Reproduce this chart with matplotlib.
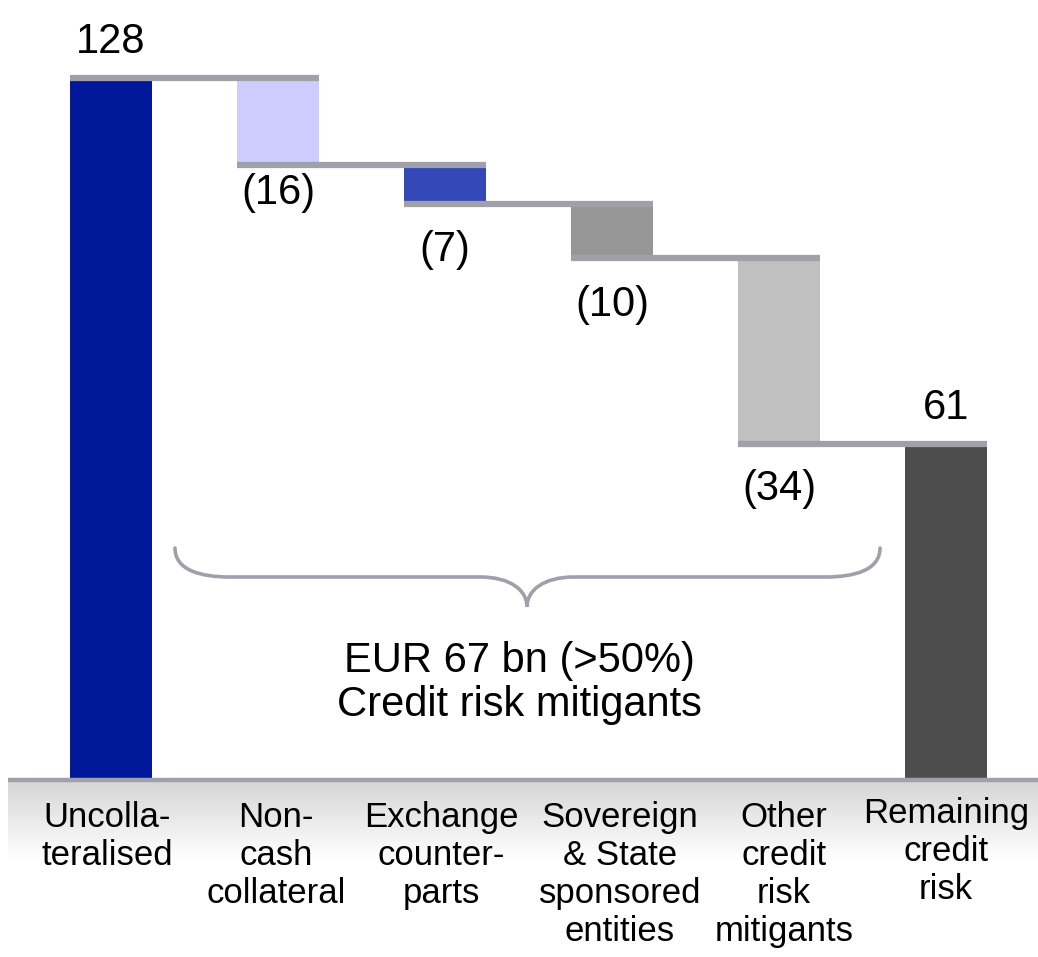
import matplotlib
matplotlib.use("Agg")
import matplotlib.pyplot as plt
import numpy as np
from matplotlib.path import Path
from matplotlib.patches import PathPatch
from matplotlib.transforms import Affine2D

# ---- data ----
categories = ["Uncolla-\nteralised", "Non-\ncash\ncollateral", "Exchange\ncounter-\nparts",
              "Sovereign\n& State\nsponsored\nentities", "Other\ncredit\nrisk\nmitigants",
              "Remaining\ncredit\nrisk"]
values = [128, -16, -7, -10, -34, 61]
value_labels = ["128", "(16)", "(7)", "(10)", "(34)", "61"]
bar_colors = ["#001899", "#ccccff", "#3449b8", "#969696", "#c0c0c0", "#4d4d4d"]
brace_text = "EUR 67 bn (>50%)\nCredit risk mitigants"

# ---- layout ----
W, H = 1038, 957
plt.rcParams['font.family'] = ['Liberation Sans', 'DejaVu Sans']
fig = plt.figure(figsize=(W / 100, H / 100), dpi=100)
ax = fig.add_axes([0, 0, 1, 1])
px_x = 167.0           # px per category
x0_px = 111.0          # px of first bar centre
base_px = 778.0        # px of baseline
px_y = 5.47            # px per unit
ax.set_xlim(-x0_px / px_x, (W - x0_px) / px_x)
ax.set_ylim(-(H - base_px) / px_y, base_px / px_y)
ax.axis("off")

# pixel transform (x from left, y from top)
pxT = Affine2D().scale(1 / W, -1 / H).translate(0, 1) + fig.transFigure

conn_color = "#a0a0aa"
width = 0.491
n = len(values)
x = np.arange(n)

# running levels
bottoms, heights = [], []
level = 0
for i, v in enumerate(values):
    if i == 0 or i == n - 1:
        bottoms.append(0)
        heights.append(v)
        level = v
    else:
        new = level + v
        bottoms.append(new)
        heights.append(-v)
        level = new

ax.bar(x, heights, bottom=bottoms, width=width, color=bar_colors, zorder=2, linewidth=0)

# connectors
for i in range(n - 1):
    lv = bottoms[i] + heights[i] if (i == 0) else bottoms[i]
    ax.hlines(lv, x[i] - width / 2, x[i + 1] + width / 2, color=conn_color,
              lw=4.5, zorder=3, capstyle="butt")

# value labels
up_gap = 25 / px_y
neg_gaps_px = [0, 28, 46, 47, 45, 0]
for i, lab in enumerate(value_labels):
    if values[i] > 0:
        ax.text(x[i], bottoms[i] + heights[i] + up_gap, lab, ha="center", va="baseline",
                fontsize=30, color="black", zorder=4)
    else:
        ax.text(x[i], bottoms[i] - neg_gaps_px[i] / px_y, lab, ha="center", va="center",
                fontsize=30, color="black", zorder=4)

# bottom band with gradient
grad = np.linspace(0, 1, 100).reshape(-1, 1)
cmap = matplotlib.colors.LinearSegmentedColormap.from_list("g", ["#d6d6d6", "#ffffff"])
ax_band = fig.add_axes([8 / W, (H - 860) / H, 1 - 8 / W, (860 - 781) / H], zorder=0)
ax_band.imshow(grad, aspect="auto", cmap=cmap, extent=[0, 1, 0, 1], origin="upper")
ax_band.axis("off")
ax.set_zorder(1)
ax.patch.set_alpha(0)
fig.add_artist(plt.Line2D([8, W], [780, 780], transform=pxT, color=conn_color, lw=3.2,
                          solid_capstyle="butt", zorder=5))

# category labels (small horizontal nudges in px to match the reference)
label_nudge_px = [-4, -2, -4, 8, 5, 0]
label_top_px = [801, 801, 801, 801, 801, 797]
for i, c in enumerate(categories):
    ax.text(x[i] + label_nudge_px[i] / px_x, -(label_top_px[i] - base_px) / px_y, c,
            ha="center", va="top", fontsize=25, linespacing=1.19, color="black")

# brace
verts = [(175, 548), (175, 570), (200, 577), (230, 577),
         (480, 577),
         (510, 577), (527, 590), (527, 607),
         (527, 590), (544, 577), (574, 577),
         (825, 577),
         (855, 577), (880, 570), (880, 548)]
codes = [Path.MOVETO, Path.CURVE4, Path.CURVE4, Path.CURVE4,
         Path.LINETO,
         Path.CURVE4, Path.CURVE4, Path.CURVE4,
         Path.CURVE4, Path.CURVE4, Path.CURVE4,
         Path.LINETO,
         Path.CURVE4, Path.CURVE4, Path.CURVE4]
fig.add_artist(PathPatch(Path(verts, codes), transform=pxT, fill=False,
                         edgecolor=conn_color, lw=2.6, capstyle="round"))

fig.text(519 / W, 1 - 683 / H, brace_text, ha="center", va="center", fontsize=30,
         linespacing=1.1, color="black")

fig.savefig("out.png", dpi=100)
